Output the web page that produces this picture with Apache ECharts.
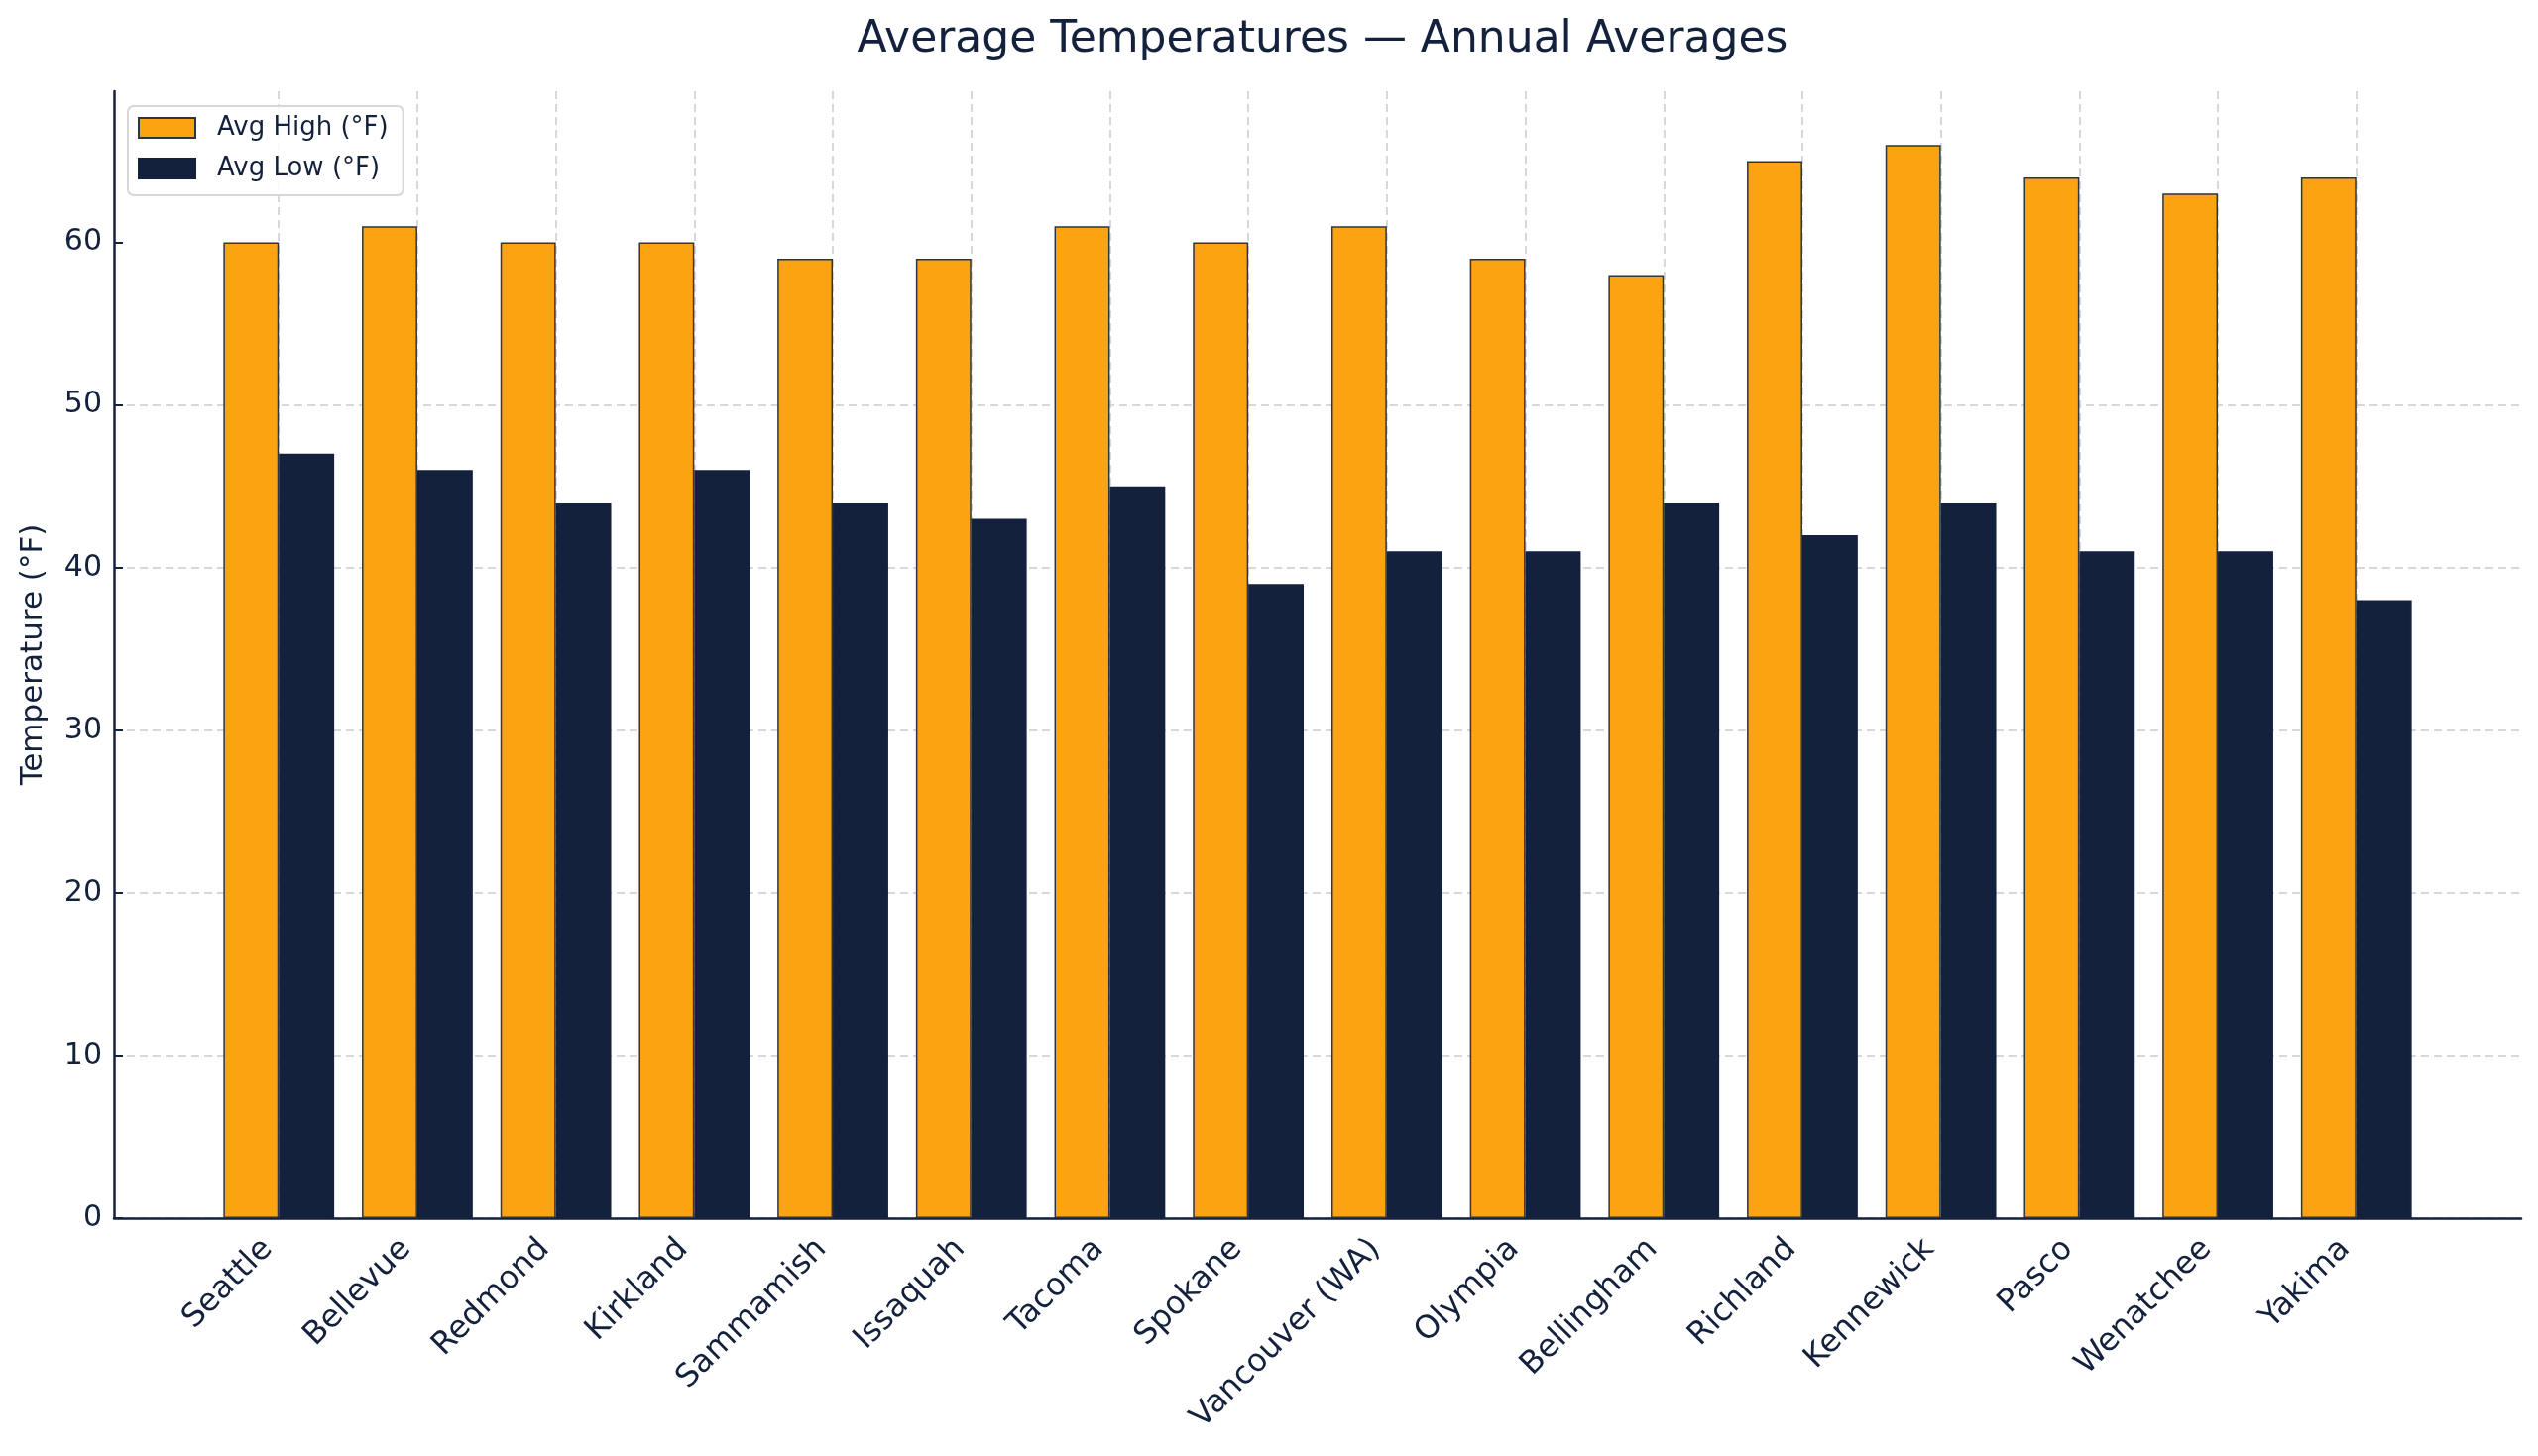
<!DOCTYPE html>
<html>
<head>
<meta charset="utf-8">
<script src="https://cdn.jsdelivr.net/npm/echarts@6/dist/echarts.min.js"></script>
<style>
  html, body { margin: 0; padding: 0; background: #ffffff; }
  #main { width: 2560px; height: 1469px; }
</style>
</head>
<body>
<div id="main"></div>
<script>
// data
var cities = ['Seattle', 'Bellevue', 'Redmond', 'Kirkland', 'Sammamish', 'Issaquah', 'Tacoma', 'Spokane',
    'Vancouver (WA)', 'Olympia', 'Bellingham', 'Richland', 'Kennewick', 'Pasco', 'Wenatchee', 'Yakima'];
var avgHigh = [60, 61, 60, 60, 59, 59, 61, 60, 61, 59, 58, 65, 66, 64, 63, 64];
var avgLow = [47, 46, 44, 46, 44, 43, 45, 39, 41, 41, 44, 42, 44, 41, 41, 38];
var yTicks = [0, 10, 20, 30, 40, 50, 60];

var navy = '#14213D';
var orange = '#FCA311';
var font = 'DejaVu Sans';

var dom = document.getElementById('main');
var myChart = echarts.init(dom, null, { renderer: 'canvas' });

// plot box (pixels)
var plotLeft = 115, plotRight = 2543, plotTop = 92, plotBottom = 1229;
var W = 2560, H = 1469;
// matplotlib style x margin: bars span -0.4..n-0.6, plus 5% margin
var n = cities.length;
var xPad = 0.4 + 0.05 * (n - 1 + 0.8);
var catPx = (plotRight - plotLeft) / (n - 1 + 2 * xPad);
var innerLeft = plotLeft + (xPad - 0.5) * catPx;
var innerRight = plotRight - (xPad - 0.5) * catPx;
var yMax = Math.max.apply(null, avgHigh) * 1.05;

var option = {
    backgroundColor: '#ffffff',
    textStyle: { fontFamily: font, color: navy },
    title: {
        text: 'Average Temperatures \u2014 Annual Averages',
        left: (plotLeft + plotRight) / 2,
        textAlign: 'center',
        top: 14,
        textStyle: { fontFamily: font, fontSize: 44, fontWeight: 'normal', color: navy }
    },
    legend: {
        orient: 'vertical',
        left: 129,
        top: 107,
        data: ['Avg High (\u00b0F)', 'Avg Low (\u00b0F)'],
        icon: 'rect',
        itemWidth: 57,
        itemHeight: 20,
        itemGap: 15,
        padding: [9, 15, 14, 10],
        backgroundColor: 'rgba(255,255,255,0.85)',
        borderColor: '#d6d6d6',
        borderWidth: 2,
        borderRadius: 6,
        textStyle: { fontFamily: font, fontSize: 26, color: navy, padding: [0, 0, 0, 17] }
    },
    grid: [
        { left: plotLeft, right: W - plotRight, top: plotTop, bottom: H - plotBottom },
        { left: innerLeft, right: W - innerRight, top: plotTop, bottom: H - plotBottom }
    ],
    xAxis: [
        {
            type: 'value', gridIndex: 0, min: 0, max: 1,
            axisLine: { show: true, lineStyle: { color: navy, width: 2.5 } },
            axisTick: { show: false }, axisLabel: { show: false }, splitLine: { show: false }
        },
        {
            type: 'category', gridIndex: 1, data: cities,
            axisLine: { show: false },
            axisTick: { show: false, alignWithLabel: true },
            axisLabel: {
                interval: 0, rotate: 45, margin: 15,
                padding: [0, 16, 0, 0],
                fontFamily: font, fontSize: 32, color: navy
            },
            splitLine: {
                show: true, interval: 0, alignWithLabel: true,
                lineStyle: { color: '#cccccc', type: [8, 5], width: 1.5 }
            }
        }
    ],
    yAxis: [
        {
            type: 'value', gridIndex: 0, min: 0, max: yMax, interval: 10,
            name: 'Temperature (\u00b0F)',
            nameLocation: 'middle',
            nameGap: 66,
            nameTextStyle: { fontFamily: font, fontSize: 31, color: navy },
            axisLine: { show: true, lineStyle: { color: navy, width: 2.5 } },
            axisTick: { show: true, inside: true, length: 9, customValues: yTicks, lineStyle: { color: navy, width: 2 } },
            axisLabel: {
                margin: 12, fontFamily: font, fontSize: 30, color: navy,
                customValues: yTicks
            },
            splitLine: {
                show: true, showMaxLine: false,
                lineStyle: { color: '#cccccc', type: [8, 5], width: 1.5 }
            }
        },
        {
            type: 'value', gridIndex: 1, min: 0, max: yMax,
            show: false
        }
    ],
    series: [
        {
            name: 'Avg High (\u00b0F)',
            type: 'bar',
            xAxisIndex: 1, yAxisIndex: 1,
            data: avgHigh,
            barWidth: '40%',
            barGap: '0%',
            itemStyle: { color: orange, borderColor: '#2e3440', borderWidth: 1.5 }
        },
        {
            name: 'Avg Low (\u00b0F)',
            type: 'bar',
            xAxisIndex: 1, yAxisIndex: 1,
            data: avgLow,
            barWidth: '40%',
            barGap: '0%',
            itemStyle: { color: navy, borderColor: navy, borderWidth: 1.5 }
        }
    ]
};
myChart.setOption(option);
window.addEventListener('resize', myChart.resize);
</script>
</body>
</html>
